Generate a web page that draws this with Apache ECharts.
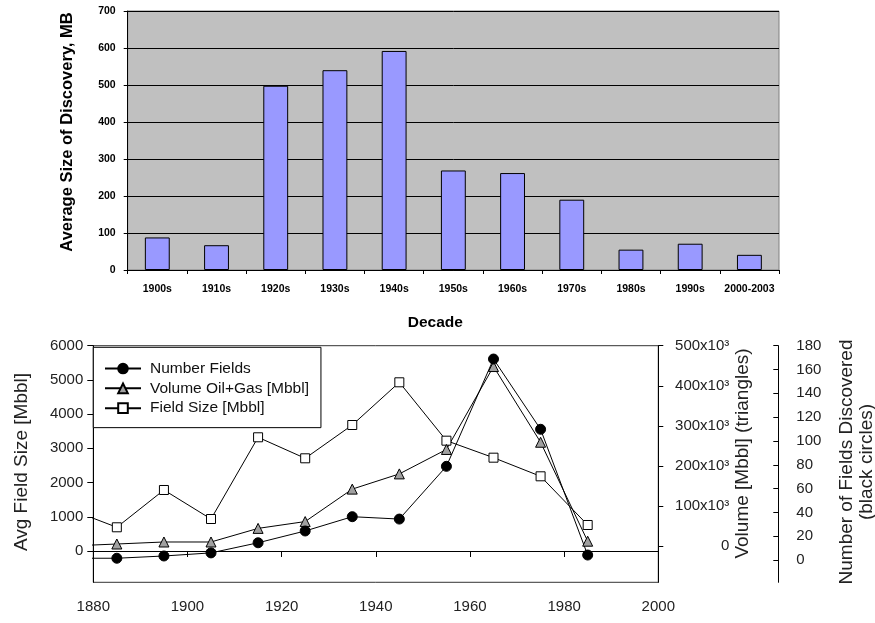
<!DOCTYPE html>
<html><head><meta charset="utf-8">
<script src="https://cdn.jsdelivr.net/npm/echarts@6/dist/echarts.min.js"></script>
<style>html,body{margin:0;padding:0;background:#fff}#c{width:875px;height:623px}</style>
</head><body><div id="c"></div>
<script>
// ---- top panel data ----
const decades = ['1900s','1910s','1920s','1930s','1940s','1950s','1960s','1970s','1980s','1990s','2000-2003'];
const avgSize = [88, 67, 498, 540, 592, 269, 262, 190, 55, 71, 41];

// ---- bottom panel data ----
const years = [1875, 1885, 1895, 1905, 1915, 1925, 1935, 1945, 1955, 1965, 1975, 1985];
const numberFields = [1.5, 1.5, 3.4, 6, 14.5, 24.4, 36.4, 34.4, 78.7, 168.8, 109.8, 4.2];
const volumeOilGas = [0, 5000, 10000, 10000, 44000, 61000, 142000, 180000, 241000, 448000, 259000, 12000];
const fieldSize = [1219, 693, 1783, 935, 3323, 2709, 3682, 4930, 3224, 2727, 2183, 760];

const fieldSizeTicks = [0, 1000, 2000, 3000, 4000, 5000, 6000];
const volumeTicks = [0, 100000, 200000, 300000, 400000, 500000];
const numberTicks = [0, 20, 40, 60, 80, 100, 120, 140, 160, 180];

const boldFont = "'Liberation Sans',Arial,sans-serif";
const sans = "'Liberation Sans',Arial,sans-serif";
const plain = function (v) { return String(v); };

const chart = echarts.init(document.getElementById('c'), null, {renderer: 'canvas'});

const option = {
  animation: false,
  backgroundColor: '#fff',
  grid: [
    {left: 127.7, right: 96, top: 11, height: 259, show: true, backgroundColor: '#C0C0C0', borderColor: '#808080', borderWidth: 1, outerBoundsMode: 'none', containLabel: false},
    {left: 93.3, right: 216.7, top: 345.7, height: 236.6, show: true, backgroundColor: 'transparent', borderColor: '#333', borderWidth: 1, outerBoundsMode: 'none', containLabel: false}
  ],
  xAxis: [
    {
      gridIndex: 0, type: 'category', data: decades, boundaryGap: true,
      axisLine: {lineStyle: {color: '#000', width: 1}},
      axisTick: {show: true, length: 4, alignWithLabel: false, lineStyle: {color: '#000'}},
      axisLabel: {color: '#000', fontFamily: boldFont, fontWeight: 'bold', fontSize: 10.5, margin: 14, interval: 0},
      splitLine: {show: false},
      name: 'Decade', nameLocation: 'middle', nameGap: 45, nameMoveOverlap: false,
      nameTextStyle: {color: '#000', fontFamily: boldFont, fontWeight: 'bold', fontSize: 15.5, padding: [0, 36, 0, 0]}
    },
    {
      gridIndex: 1, type: 'value', min: 1880, max: 2000, interval: 20,
      axisLine: {lineStyle: {color: '#000', width: 1}},
      axisTick: {show: true, length: 6, lineStyle: {color: '#000'}},
      axisLabel: {color: '#222', fontFamily: sans, fontSize: 15, margin: 17, formatter: plain},
      splitLine: {show: false}
    }
  ],
  yAxis: [
    {
      gridIndex: 0, type: 'value', min: 0, max: 700, interval: 100,
      axisLine: {show: true, lineStyle: {color: '#000', width: 1}},
      axisTick: {show: true, length: 4, lineStyle: {color: '#000'}},
      axisLabel: {color: '#000', fontFamily: boldFont, fontWeight: 'bold', fontSize: 10.5, margin: 12},
      splitLine: {show: true, lineStyle: {color: '#000', width: 1}},
      name: 'Average Size of Discovery, MB', nameLocation: 'middle', nameGap: 52, nameRotate: 90, nameMoveOverlap: false,
      nameTextStyle: {color: '#000', fontFamily: boldFont, fontWeight: 'bold', fontSize: 16.5, padding: [0, 0, 0, 17]}
    },
    {
      gridIndex: 1, type: 'value', position: 'left', min: -915, max: 6000,
      axisLine: {show: true, lineStyle: {color: '#000', width: 1}},
      axisTick: {show: true, length: 6, customValues: fieldSizeTicks, lineStyle: {color: '#000'}},
      axisLabel: {color: '#222', fontFamily: sans, fontSize: 15, margin: 10, customValues: fieldSizeTicks, formatter: plain},
      splitLine: {show: false},
      name: 'Avg Field Size [Mbbl]', nameLocation: 'middle', nameGap: 62, nameRotate: 90, nameMoveOverlap: false,
      nameTextStyle: {color: '#222', fontFamily: sans, fontSize: 19, padding: [0, 0, 0, 4]}
    },
    {
      gridIndex: 1, type: 'value', position: 'right', offset: 0, min: -90600, max: 500000,
      axisLine: {show: true, lineStyle: {color: '#000', width: 1}},
      axisTick: {show: true, length: 5, customValues: volumeTicks, lineStyle: {color: '#000'}},
      axisLabel: {color: '#222', fontFamily: sans, fontSize: 15, margin: 71, align: 'right', customValues: volumeTicks,
        formatter: function (v) { return v === 0 ? '0' : (v / 1000) + 'x10\u00B3'; }},
      splitLine: {show: false},
      name: 'Volume [Mbbl] (triangles)', nameLocation: 'middle', nameGap: 75, nameRotate: 90, nameMoveOverlap: false,
      nameTextStyle: {color: '#222', fontFamily: sans, fontSize: 19, padding: [0, 0, 0, 21]}
    },
    {
      gridIndex: 1, type: 'value', position: 'right', offset: 120, min: -18.7, max: 180,
      axisLine: {show: true, lineStyle: {color: '#000', width: 1}},
      axisTick: {show: true, inside: true, length: 5, customValues: numberTicks, lineStyle: {color: '#000'}},
      axisLabel: {color: '#222', fontFamily: sans, fontSize: 15, margin: 18, customValues: numberTicks, formatter: plain},
      splitLine: {show: false},
      name: 'Number of Fields Discovered\n(black circles)', nameLocation: 'middle', nameGap: 58, nameRotate: 90, nameMoveOverlap: false,
      nameTextStyle: {color: '#222', fontFamily: sans, fontSize: 19, lineHeight: 20, padding: [0, 0, 0, 4]}
    }
  ],
  legend: {
    orient: 'vertical', left: 93.3, top: 347.3,
    padding: [13.25, 12, 11.5, 10.7], itemGap: 3.8, itemWidth: 36, itemHeight: 12,
    backgroundColor: '#fff', borderColor: '#000', borderWidth: 1, borderRadius: 0,
    textStyle: {color: '#111', fontFamily: sans, fontSize: 15.5, padding: [0, 0, 0, 4]},
    data: ['Number Fields', 'Volume Oil+Gas [Mbbl]', 'Field Size [Mbbl]']
  },
  series: [
    {
      type: 'bar', xAxisIndex: 0, yAxisIndex: 0, data: avgSize, barWidth: '42%',
      itemStyle: {color: '#9999FF', borderColor: '#000', borderWidth: 1}
    },
    {
      name: 'Field Size [Mbbl]', type: 'line', xAxisIndex: 1, yAxisIndex: 1,
      data: years.map((y, i) => [y, fieldSize[i]]),
      symbol: 'rect', symbolSize: 9, showAllSymbol: true, clip: true,
      lineStyle: {color: '#000', width: 1},
      itemStyle: {color: '#fff', borderColor: '#000', borderWidth: 1}
    },
    {
      name: 'Volume Oil+Gas [Mbbl]', type: 'line', xAxisIndex: 1, yAxisIndex: 2,
      data: years.map((y, i) => [y, volumeOilGas[i]]),
      symbol: 'triangle', symbolSize: 10, showAllSymbol: true, clip: true,
      lineStyle: {color: '#000', width: 1},
      itemStyle: {color: '#A0A0A0', borderColor: '#000', borderWidth: 1}
    },
    {
      name: 'Number Fields', type: 'line', xAxisIndex: 1, yAxisIndex: 3,
      data: years.map((y, i) => [y, numberFields[i]]),
      symbol: 'circle', symbolSize: 10, showAllSymbol: true, clip: true,
      lineStyle: {color: '#000', width: 1},
      itemStyle: {color: '#000', borderColor: '#000', borderWidth: 1}
    }
  ]
};
chart.setOption(option);
</script>
</body></html>
